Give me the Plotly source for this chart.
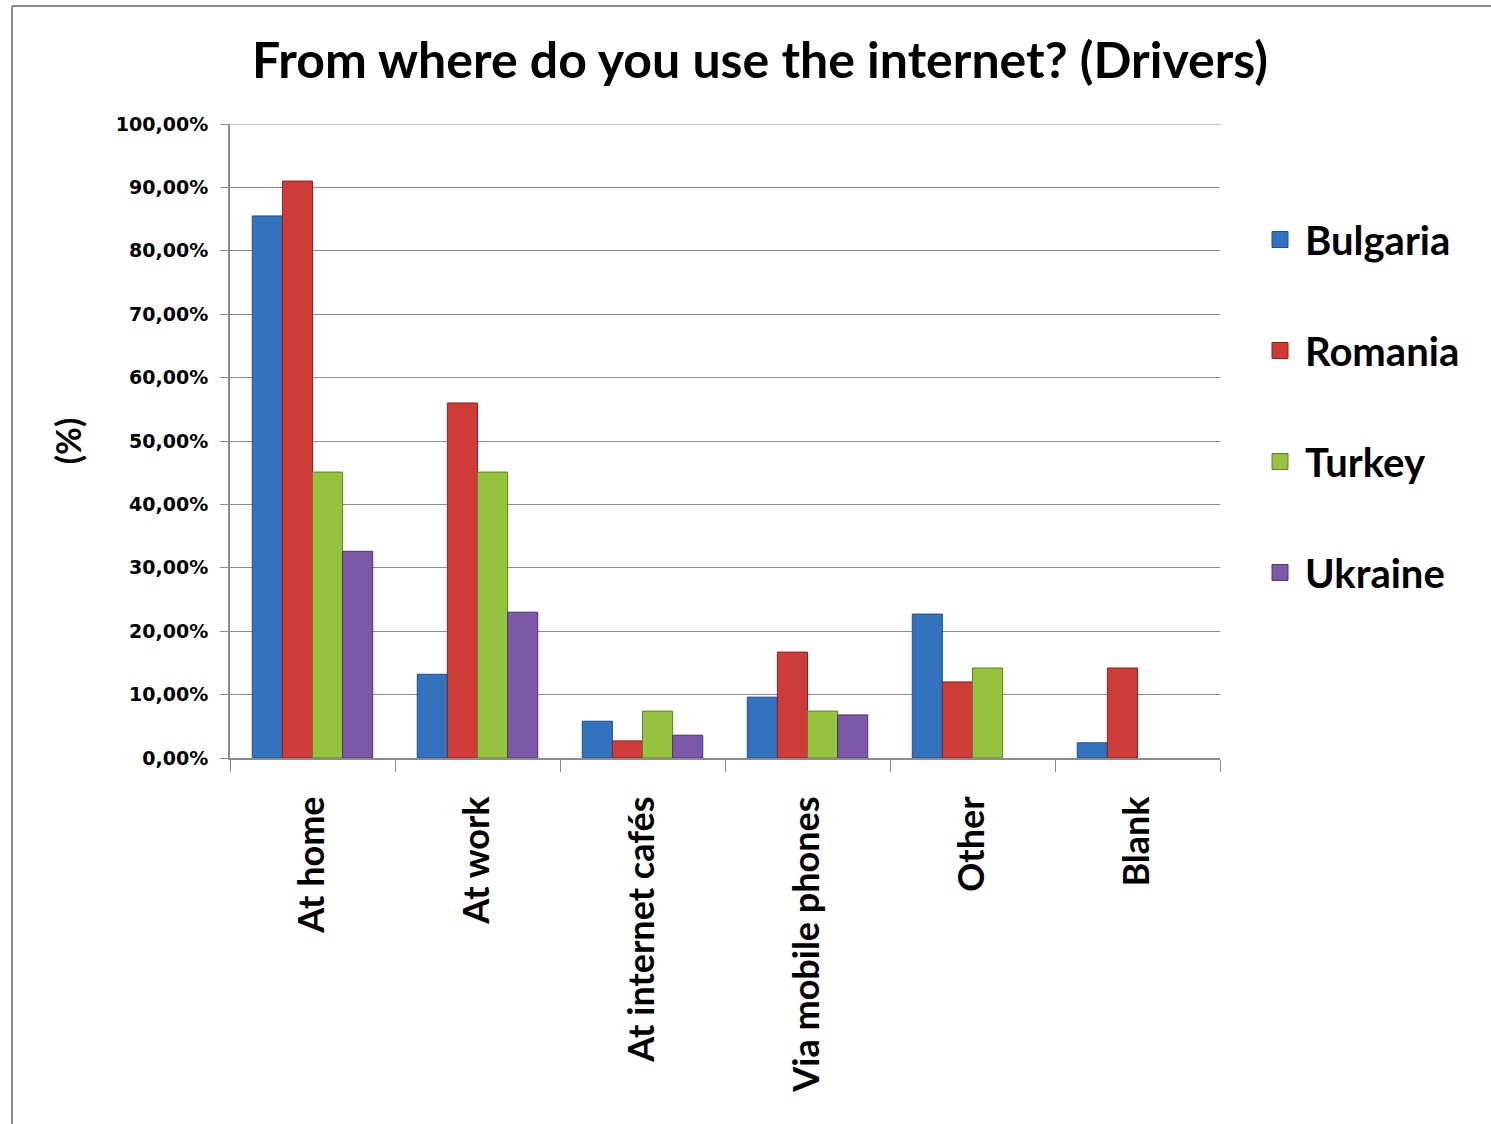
import plotly.graph_objects as go

# Survey answers: where drivers use the internet, share per country (%)
categories = ["At home", "At work", "At internet cafés", "Via mobile phones", "Other", "Blank"]
bulgaria = [85.5, 13.2, 5.8, 9.6, 22.7, 2.4]
romania = [91.0, 56.0, 2.7, 16.7, 12.0, 14.2]
turkey = [45.1, 45.1, 7.4, 7.4, 14.2, None]
ukraine = [32.6, 23.0, 3.6, 6.8, None, None]

series = [
    ("Bulgaria", bulgaria, "#3372BE", "#1F4E8A"),
    ("Romania", romania, "#CF3B37", "#8E2220"),
    ("Turkey", turkey, "#95C23F", "#5F8224"),
    ("Ukraine", ukraine, "#7D58A8", "#4F3570"),
]

W, H = 1491, 1124
L, R, T, B = 230, 1220, 124, 758

fig = go.Figure()
for name, vals, col, edge in series:
    fig.add_trace(go.Bar(
        name=name, x=categories, y=vals,
        marker=dict(color=col, line=dict(color=edge, width=1)),
        legendgroup=name, showlegend=False,
    ))
    # legend entry with a large square swatch
    fig.add_trace(go.Scatter(
        name=name, x=[None], y=[None], mode="markers",
        marker=dict(symbol="square", size=26, color=col, line=dict(color=edge, width=1)),
        legendgroup=name, showlegend=True,
    ))

def px_x(x):
    return (x - L) / (R - L)

def px_y(y):
    return (B - y) / (B - T)

# outer chart frame (left and top edges)
frame = "#8C8C8C"
fig.add_shape(type="line", xref="paper", yref="paper",
              x0=px_x(12), x1=px_x(12), y0=px_y(6), y1=px_y(H + 10),
              line=dict(color=frame, width=2))
fig.add_shape(type="line", xref="paper", yref="paper",
              x0=px_x(12), x1=px_x(W + 10), y0=px_y(6), y1=px_y(6),
              line=dict(color=frame, width=2))
# gridline at the top of the value range
fig.add_shape(type="line", xref="paper", yref="y",
              x0=0, x1=1, y0=100, y1=100,
              line=dict(color="#8C8C8C", width=1), layer="below")

fig.update_layout(
    width=W, height=H,
    margin=dict(l=L, r=W - R, t=T, b=H - B, autoexpand=False),
    paper_bgcolor="white", plot_bgcolor="white",
    separators=", ",
    barmode="group", bargap=0.27, bargroupgap=0.0,
    title=dict(text="<b>From where do you use the internet? (Drivers)</b>",
               x=760 / W, xanchor="center", y=1 - 60 / H, yanchor="middle",
               font=dict(family="Lato", size=50, color="black")),
    legend=dict(x=px_x(1255), xanchor="left", y=px_y(207), yanchor="top",
                font=dict(family="Lato", size=40, color="black", weight="bold"),
                tracegroupgap=56, itemwidth=40,
                bgcolor="rgba(0,0,0,0)"),
    showlegend=True,
)

fig.update_yaxes(
    range=[0, 100], dtick=10, tickformat=".2f", ticksuffix="%",
    showgrid=True, gridcolor="#8C8C8C", gridwidth=1,
    showline=True, linecolor="#8C8C8C", linewidth=2,
    ticks="outside", ticklen=8, tickcolor="#8C8C8C",
    ticklabelstandoff=8,
    tickfont=dict(family="DejaVu Sans", size=19, color="black", weight="bold"),
    title=dict(text="<b>(%)</b>", font=dict(family="Lato", size=34, color="black"), standoff=24),
    zeroline=False,
)
fig.update_xaxes(
    tickangle=-90, tickson="boundaries",
    tickvals=categories, ticktext=["<b>" + c + "</b>" for c in categories],
    showline=True, linecolor="#8C8C8C", linewidth=2,
    ticks="outside", ticklen=12, tickcolor="#8C8C8C",
    ticklabelstandoff=22,
    tickfont=dict(family="Lato", size=36, color="black", weight="bold"),
    mirror=False,
)

fig.write_html("out.html")
